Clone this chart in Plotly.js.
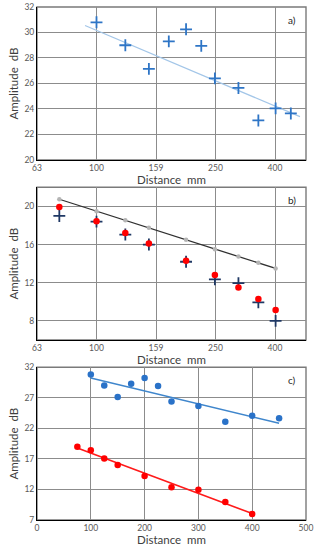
<!DOCTYPE html>
<html>
<head>
<meta charset="utf-8">
<script src="https://cdn.plot.ly/plotly-3.0.1.min.js"></script>
<style>html,body{margin:0;padding:0;background:#fff;}#chart{width:319px;height:550px;}</style>
</head>
<body>
<div id="chart"></div>
<script>
// ---- Panel a) ----
const distA = [100, 125, 150, 175, 200, 225, 250, 300, 350, 400, 450];
const ampA = [30.8, 29.0, 27.15, 29.3, 30.25, 28.95, 26.4, 25.65, 23.1, 24.05, 23.65];
const trendA_x = [91.5, 483];
const trendA_y = [30.55, 23.4];

// ---- Panel b) ----
const distB = [75, 100, 125, 150, 200, 250, 300, 350, 400];
const refB = [20.75, 19.5, 18.55, 17.75, 16.5, 15.5, 14.75, 14.1, 13.5];
const redB = [19.95, 18.45, 17.2, 16.1, 14.3, 12.8, 11.5, 10.3, 9.15];
const crossB = [19.0, 18.4, 17.05, 16.0, 14.2, 12.35, 11.95, 9.95, 8.0];

// ---- Panel c) ----
const distCblue = distA;
const ampCblue = ampA;
const distCred = distB;
const ampCred = crossB;

// log-axis tick labels for a) and b)
const logTickVals = [63.096, 100, 158.489, 251.189, 398.107];
const logTickText = ['63', '100', '159', '250', '400'];

function linFit(xs, ys) {
  const n = xs.length;
  const mx = xs.reduce((a, b) => a + b, 0) / n;
  const my = ys.reduce((a, b) => a + b, 0) / n;
  let sxy = 0, sxx = 0;
  for (let i = 0; i < n; i++) { sxy += (xs[i] - mx) * (ys[i] - my); sxx += (xs[i] - mx) ** 2; }
  const b = sxy / sxx, a = my - b * mx;
  const x0 = Math.min(...xs), x1 = Math.max(...xs);
  return { x: [x0, x1], y: [a + b * x0, a + b * x1] };
}
const fitBlue = linFit(distCblue, ampCblue);
const fitRed = linFit(distCred, ampCred);

const BLUE = '#2e75c6', NAVY = '#1f3864', RED = '#ff0000';

const traces = [
  // a)
  { x: trendA_x, y: trendA_y, xaxis: 'x', yaxis: 'y', mode: 'lines', line: { color: '#a3c6e8', width: 1.2 }, hoverinfo: 'skip' },
  { x: distA, y: ampA, xaxis: 'x', yaxis: 'y', mode: 'markers',
    marker: { symbol: 'cross-thin', size: 8.5, color: BLUE, line: { color: BLUE, width: 1.8 } } },
  // b)
  { x: distB, y: refB, xaxis: 'x2', yaxis: 'y2', mode: 'lines+markers',
    line: { color: '#303030', width: 1.3 }, marker: { size: 4.5, color: '#b4b4b4' } },
  { x: distB, y: crossB, xaxis: 'x2', yaxis: 'y2', mode: 'markers',
    marker: { symbol: 'cross-thin', size: 8.5, color: NAVY, line: { color: NAVY, width: 1.8 } } },
  { x: distB, y: redB, xaxis: 'x2', yaxis: 'y2', mode: 'markers',
    marker: { symbol: 'circle', size: 6.5, color: RED } },
  // c)
  { x: fitBlue.x, y: fitBlue.y, xaxis: 'x3', yaxis: 'y3', mode: 'lines', line: { color: '#3f86cc', width: 1.5 } },
  { x: fitRed.x, y: fitRed.y, xaxis: 'x3', yaxis: 'y3', mode: 'lines', line: { color: '#ff1a1a', width: 1.6 } },
  { x: distCblue, y: ampCblue, xaxis: 'x3', yaxis: 'y3', mode: 'markers',
    marker: { symbol: 'circle', size: 6.5, color: '#2a72c8' } },
  { x: distCred, y: ampCred, xaxis: 'x3', yaxis: 'y3', mode: 'markers',
    marker: { symbol: 'circle', size: 6.5, color: RED } }
];

const FONT = 'Lato, "Open Sans", sans-serif';
const GRID = '#8c8c8c';
const titleFont = { family: FONT, size: 11.5, color: '#404040' };

function xAx(extra) {
  return Object.assign({
    showgrid: true, gridcolor: GRID, gridwidth: 1,
    showline: true, linecolor: '#000', linewidth: 1,
    ticks: '', zeroline: false, automargin: false,
    tickfont: { family: FONT, size: 8.5, color: '#595959' },
    title: { text: 'Distance  mm', font: titleFont, standoff: 1 }
  }, extra);
}
function yAx(extra) {
  return Object.assign({
    showgrid: true, gridcolor: GRID, gridwidth: 1,
    showline: true, linecolor: '#000', linewidth: 1,
    ticks: '', zeroline: false, automargin: false,
    tickfont: { family: FONT, size: 8.5, color: '#595959' },
    title: { text: 'Amplitude  dB', font: titleFont, standoff: 3 }
  }, extra);
}

const frames = ['', '2', '3'].map(s => ({
  type: 'rect', xref: 'x' + s + ' domain', yref: 'y' + s + ' domain',
  x0: 0, x1: 1, y0: 0, y1: 1, line: { color: '#7a7a7a', width: 1.4 }, layer: 'below'
}));

const labels = [['a)', ''], ['b)', '2'], ['c)', '3']].map(([t, s]) => ({
  text: t, xref: 'x' + s + ' domain', yref: 'y' + s + ' domain',
  x: 0.948, y: 0.915, showarrow: false, xanchor: 'center', yanchor: 'middle',
  font: { family: FONT, size: 10, color: '#262626' }
}));

const layout = {
  width: 319, height: 550,
  margin: { l: 37, r: 13, t: 7, b: 30 },
  paper_bgcolor: '#fff', plot_bgcolor: '#fff',
  showlegend: false,
  font: { family: FONT, size: 8.5, color: '#595959' },
  xaxis: xAx({ type: 'log', anchor: 'y', domain: [0, 1], range: [1.8, 2.7042], tickvals: logTickVals, ticktext: logTickText }),
  yaxis: yAx({ anchor: 'x', domain: [0.7018, 1], range: [20, 32], dtick: 2 }),
  xaxis2: xAx({ type: 'log', anchor: 'y2', domain: [0, 1], range: [1.8, 2.7042], tickvals: logTickVals, ticktext: logTickText }),
  yaxis2: yAx({ anchor: 'x2', domain: [0.3509, 0.6485], range: [6, 22], dtick: 4 }),
  xaxis3: xAx({ anchor: 'y3', domain: [0, 1], range: [0, 500], dtick: 100 }),
  yaxis3: yAx({ anchor: 'x3', domain: [0, 0.2977], range: [7, 32], tick0: 7, dtick: 5 }),
  shapes: frames,
  annotations: labels
};

Plotly.newPlot('chart', traces, layout, { displayModeBar: false, staticPlot: true });
</script>
</body>
</html>
